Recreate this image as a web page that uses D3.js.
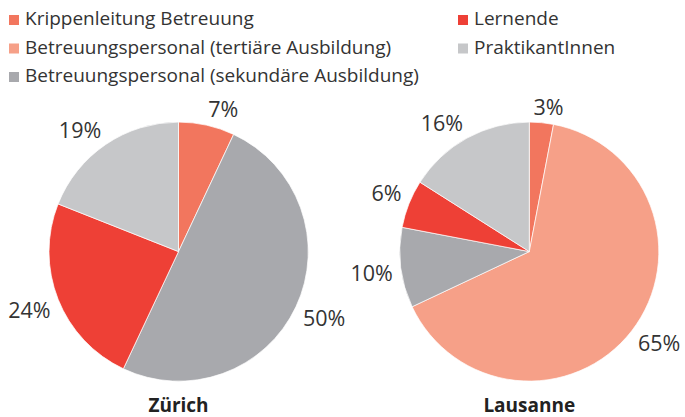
<!DOCTYPE html>
<html>
<head>
<meta charset="utf-8">
<script src="https://cdn.jsdelivr.net/npm/d3@7"></script>
<style>
  html, body { margin: 0; padding: 0; background: #fff; }
  svg { display: block; font-family: "Open Sans", sans-serif; }
</style>
</head>
<body>
<div id="chart"></div>
<script>
// Staff composition in Zürich and Lausanne - two pies sharing one legend
const categories = [
  "Krippenleitung Betreuung",
  "Betreuungspersonal (tertiäre Ausbildung)",
  "Betreuungspersonal (sekundäre Ausbildung)",
  "Lernende",
  "PraktikantInnen"
];
const cities = ["Zürich", "Lausanne"];
const zurichValues = [7, 0, 50, 24, 19];
const lausanneValues = [3, 65, 10, 6, 16];

const palette = ["#f2765e", "#f6a088", "#a8a9ad", "#ee4036", "#c6c7c9"];

const width = 685, height = 417;
const radius = 129.5;
const textColor = "#333";

const svg = d3.select("#chart").append("svg")
  .attr("width", width)
  .attr("height", height);

const color = d3.scaleOrdinal().domain(categories).range(palette);

// legend: two columns, first column holds three entries
const legendCol = d3.scaleOrdinal().domain([0, 1]).range([9, 458]);
const legendRow = d3.scaleLinear().domain([0, 1]).range([25, 53.5]);

const legend = svg.append("g").attr("class", "legend");
categories.forEach((c, i) => {
  const col = i < 3 ? 0 : 1;
  const row = i < 3 ? i : i - 3;
  const g = legend.append("g")
    .attr("transform", `translate(${legendCol(col)},${legendRow(row)})`);
  g.append("rect")
    .attr("x", 0).attr("y", -10)
    .attr("width", 10).attr("height", 10)
    .attr("fill", color(c));
  g.append("text")
    .attr("x", 16).attr("y", 0)
    .attr("fill", textColor)
    .style("font-size", "19px")
    .text(c);
});

// pies
const cx = d3.scalePoint().domain(cities).range([178.5, 529.3]);
const cy = 251.6;

const pie = d3.pie().sort(null).value(d => d.value);
const arc = d3.arc().innerRadius(0).outerRadius(radius);

const seriesByCity = [zurichValues, lausanneValues];
const labelSize = 21.5;
const capH = labelSize * 0.72;
const anchorR = radius + 8;
const clamp = v => Math.max(-1, Math.min(1, v));

cities.forEach((city, ci) => {
  const data = categories.map((c, i) => ({ cat: c, value: seriesByCity[ci][i] }));
  const arcs = pie(data);

  const g = svg.append("g")
    .attr("transform", `translate(${cx(city)},${cy})`);

  g.selectAll("path.slice")
    .data(arcs.filter(d => d.data.value > 0))
    .join("path")
    .attr("class", "slice")
    .attr("d", arc)
    .attr("fill", d => color(d.data.cat))
    .attr("stroke", "#fff")
    .attr("stroke-width", 0.7);

  // outside-end labels: the label box corner nearest the pie touches an anchor point
  g.selectAll("text.pct")
    .data(arcs.filter(d => d.data.value > 0))
    .join("text")
    .attr("class", "pct")
    .attr("fill", textColor)
    .attr("text-anchor", "middle")
    .style("font-size", labelSize + "px")
    .text(d => d.data.value + "%")
    .each(function(d) {
      const a = (d.startAngle + d.endAngle) / 2;
      const s = Math.sin(a), co = Math.cos(a);
      const w = this.getComputedTextLength();
      const ax = anchorR * s, ay = -anchorR * co;
      const mx = ax + (w / 2) * clamp(s * 4.5);
      const my = ay - (capH / 2) * clamp(co * 4.5);
      d3.select(this).attr("x", mx).attr("y", my + capH / 2);
    });

  svg.append("text")
    .attr("x", cx(city))
    .attr("y", 411.5)
    .attr("text-anchor", "middle")
    .attr("fill", "#222")
    .style("font-size", "19px")
    .style("font-weight", "bold")
    .text(city);
});
</script>
</body>
</html>
